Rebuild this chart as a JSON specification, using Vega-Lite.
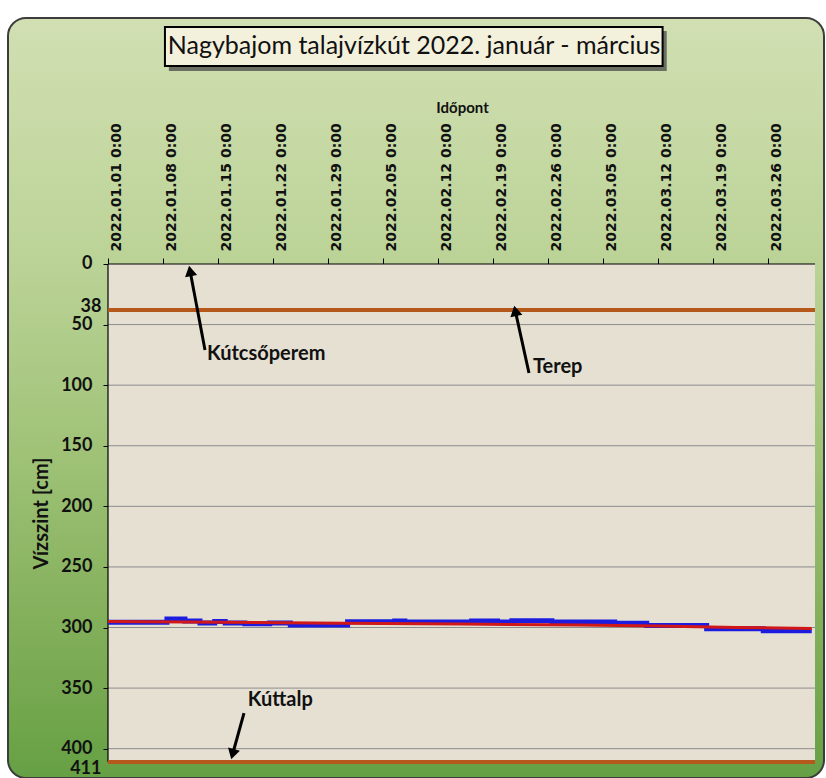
{
  "$schema": "https://vega.github.io/schema/vega-lite/v6.json",
  "width": 816,
  "height": 760,
  "autosize": {"type": "none"},
  "padding": {"left": 8, "top": 18, "right": 2, "bottom": 0},
  "background": "#ffffff",
  "view": {
    "fill": {
      "gradient": "linear",
      "x1": 0, "y1": 0, "x2": 0, "y2": 1,
      "stops": [
        {"offset": 0, "color": "#d1dfb2"},
        {"offset": 0.3, "color": "#bdd499"},
        {"offset": 0.55, "color": "#a2c47a"},
        {"offset": 0.8, "color": "#82af5a"},
        {"offset": 1, "color": "#66a044"}
      ]
    },
    "stroke": "#3c3c3c",
    "strokeWidth": 2,
    "cornerRadius": 18
  },
  "datasets": {
    "levels": [
      {"level": 38, "name": "Terep"},
      {"level": 411, "name": "Kúttalp"}
    ],
    "grid": [
      {"level": 50}, {"level": 100}, {"level": 150}, {"level": 200},
      {"level": 250}, {"level": 300}, {"level": 350}, {"level": 400}
    ],
    "measured": [
      {"time": "2022-01-01T00:00", "level": 295.6},
      {"time": "2022-01-08T12:00", "level": 293.0},
      {"time": "2022-01-10T19:00", "level": 294.6},
      {"time": "2022-01-12T17:00", "level": 296.3},
      {"time": "2022-01-14T14:00", "level": 295.0},
      {"time": "2022-01-15T22:00", "level": 296.3},
      {"time": "2022-01-18T10:00", "level": 296.8},
      {"time": "2022-01-21T14:00", "level": 296.2},
      {"time": "2022-01-24T05:00", "level": 298.0},
      {"time": "2022-01-31T12:00", "level": 295.3},
      {"time": "2022-02-06T12:00", "level": 294.6},
      {"time": "2022-02-07T19:00", "level": 295.4},
      {"time": "2022-02-16T07:00", "level": 294.6},
      {"time": "2022-02-19T14:00", "level": 295.4},
      {"time": "2022-02-21T10:00", "level": 294.5},
      {"time": "2022-02-26T12:00", "level": 295.5},
      {"time": "2022-03-06T12:00", "level": 296.5},
      {"time": "2022-03-10T14:00", "level": 298.3},
      {"time": "2022-03-18T05:00", "level": 301.0},
      {"time": "2022-03-25T10:00", "level": 302.6},
      {"time": "2022-03-31T14:00", "level": 302.6}
    ],
    "trend": [
      {"time": "2022-01-01T00:00", "level": 295.0},
      {"time": "2022-01-16T00:00", "level": 295.7},
      {"time": "2022-01-31T00:00", "level": 296.4},
      {"time": "2022-02-15T00:00", "level": 297.1},
      {"time": "2022-03-02T00:00", "level": 297.9},
      {"time": "2022-03-12T00:00", "level": 298.7},
      {"time": "2022-03-22T00:00", "level": 299.9},
      {"time": "2022-03-31T14:00", "level": 300.9}
    ],
    "notes": [
      {"label": "Kútcsőperem", "time": "2022-01-13T14:24", "level": 74.3},
      {"label": "Terep", "time": "2022-02-24T02:24", "level": 85.0},
      {"label": "Kúttalp", "time": "2022-01-18T19:12", "level": 359.8}
    ],
    "arrows": [
      {"label": "Kútcsőperem", "t0": "2022-01-13T08:24", "v0": 71.0, "t1": "2022-01-11T10:48", "v1": 5.7},
      {"label": "Terep", "t0": "2022-02-23T14:10", "v0": 90.0, "t1": "2022-02-21T20:24", "v1": 38.7},
      {"label": "Kúttalp", "t0": "2022-01-18T07:26", "v0": 370.6, "t1": "2022-01-16T20:38", "v1": 404.6}
    ],
    "heading": [
      {"text": "Nagybajom talajvízkút 2022. január - március"}
    ],
    "frame": [{}]
  },
  "layer": [
    {
      "data": {"name": "frame"},
      "mark": {"type": "rect", "fill": "#e6e0d3"},
      "encoding": {
        "x": {"datum": {"year": 2022, "month": 1, "date": 1}, "type": "temporal", "axis": null},
        "x2": {"datum": {"year": 2022, "month": 4, "date": 1}},
        "y": {
          "datum": 0,
          "type": "quantitative",
          "scale": {"domain": [-203.02, 424.2], "reverse": true, "nice": false, "zero": false},
          "axis": {
            "orient": "left",
            "offset": -100,
            "values": [0, 50, 100, 150, 200, 250, 300, 350, 400],
            "format": "d",
            "labelFont": "Lato",
            "labelFontWeight": "bold",
            "labelFontSize": 18,
            "labelColor": "#111111",
            "labelPadding": 11,
            "tickSize": 5,
            "tickColor": "#000000",
            "domain": false,
            "grid": false,
            "title": "Vízszint [cm]",
            "titleFont": "Lato",
            "titleFontSize": 20,
            "titleFontWeight": "bold",
            "titleColor": "#111111",
            "titleY": 495,
            "titlePadding": 9
          }
        },
        "y2": {"datum": 411}
      }
    },
    {
      "data": {"name": "grid"},
      "mark": {"type": "rule", "stroke": "#8c8c8c", "strokeWidth": 1},
      "encoding": {
        "x": {"datum": {"year": 2022, "month": 1, "date": 1}, "type": "temporal", "axis": null},
        "x2": {"datum": {"year": 2022, "month": 4, "date": 1}},
        "y": {"field": "level", "type": "quantitative", "axis": null}
      }
    },
    {
      "data": {"name": "frame"},
      "mark": {"type": "rule", "stroke": "#000000", "strokeWidth": 1.2},
      "encoding": {
        "x": {"datum": {"year": 2022, "month": 1, "date": 1}, "type": "temporal", "axis": null},
        "x2": {"datum": {"year": 2022, "month": 4, "date": 1}},
        "y": {"datum": 0, "type": "quantitative", "axis": null}
      }
    },
    {
      "data": {"name": "frame"},
      "mark": {"type": "rule", "stroke": "#000000", "strokeWidth": 1.2},
      "encoding": {
        "x": {"datum": {"year": 2022, "month": 1, "date": 1}, "type": "temporal", "axis": null},
        "y": {"datum": 0, "type": "quantitative", "axis": null},
        "y2": {"datum": 411}
      }
    },
    {
      "data": {"name": "levels"},
      "mark": {"type": "rule", "stroke": "#b4581c", "strokeWidth": 4},
      "encoding": {
        "x": {"datum": {"year": 2022, "month": 1, "date": 1}, "type": "temporal", "axis": null},
        "x2": {"datum": {"year": 2022, "month": 4, "date": 1}},
        "y": {
          "field": "level",
          "type": "quantitative",
          "axis": {
            "orient": "left",
            "offset": -100,
            "values": [38, 411],
            "format": "d",
            "ticks": false,
            "domain": false,
            "grid": false,
            "labelFont": "Lato",
            "labelFontWeight": "bold",
            "labelFontSize": 18,
            "labelColor": "#111111",
            "labelPadding": 7,
            "labelOffset": {"condition": {"test": "datum.value > 100", "value": 6}, "value": -4},
            "title": null
          }
        }
      }
    },
    {
      "data": {"name": "measured"},
      "mark": {"type": "line", "interpolate": "step-after", "stroke": "#1c1ce0", "strokeWidth": 5},
      "encoding": {
        "x": {
          "field": "time",
          "type": "temporal",
          "scale": {
            "type": "time",
            "domain": [
              {"year": 2021, "month": 12, "date": 19, "hours": 6, "minutes": 29},
              {"year": 2022, "month": 4, "date": 2, "hours": 3, "minutes": 30}
            ],
            "nice": false
          },
          "axis": {
            "orient": "top",
            "offset": -246,
            "values": [
              {"year": 2022, "month": 1, "date": 1},
              {"year": 2022, "month": 1, "date": 8},
              {"year": 2022, "month": 1, "date": 15},
              {"year": 2022, "month": 1, "date": 22},
              {"year": 2022, "month": 1, "date": 29},
              {"year": 2022, "month": 2, "date": 5},
              {"year": 2022, "month": 2, "date": 12},
              {"year": 2022, "month": 2, "date": 19},
              {"year": 2022, "month": 2, "date": 26},
              {"year": 2022, "month": 3, "date": 5},
              {"year": 2022, "month": 3, "date": 12},
              {"year": 2022, "month": 3, "date": 19},
              {"year": 2022, "month": 3, "date": 26}
            ],
            "labelExpr": "timeFormat(datum.value, '%Y.%m.%d') + ' 0:00'",
            "labelAngle": 270,
            "labelFont": "DejaVu Sans",
            "labelFontWeight": "bold",
            "labelFontSize": 14,
            "labelColor": "#111111",
            "labelPadding": 7,
            "labelOffset": 9,
            "labelOverlap": false,
            "labelFlush": false,
            "ticks": true,
            "tickSize": 6,
            "tickColor": "#000000",
            "tickWidth": 1,
            "domain": false,
            "grid": false,
            "title": "Időpont",
            "titleFont": "Lato",
            "titleFontSize": 15,
            "titleFontWeight": "bold",
            "titleColor": "#111111",
            "titleX": 454,
            "titlePadding": 7
          }
        },
        "y": {"field": "level", "type": "quantitative", "axis": null}
      }
    },
    {
      "data": {"name": "trend"},
      "mark": {"type": "line", "stroke": "#d01818", "strokeWidth": 3},
      "encoding": {
        "x": {"field": "time", "type": "temporal", "axis": null},
        "y": {"field": "level", "type": "quantitative", "axis": null}
      }
    },
    {
      "data": {"name": "arrows"},
      "mark": {"type": "rule", "stroke": "#000000", "strokeWidth": 3},
      "encoding": {
        "x": {"field": "t0", "type": "temporal", "axis": null},
        "x2": {"field": "t1"},
        "y": {"field": "v0", "type": "quantitative", "axis": null},
        "y2": {"field": "v1"}
      }
    },
    {
      "data": {"name": "arrows"},
      "transform": [{"filter": "datum.label === 'Kútcsőperem'"}],
      "mark": {"type": "point", "shape": "triangle-up", "filled": true, "fill": "#000000", "opacity": 1, "size": 150, "angle": 349},
      "encoding": {
        "x": {"field": "t1", "type": "temporal", "axis": null},
        "y": {"field": "v1", "type": "quantitative", "axis": null}
      }
    },
    {
      "data": {"name": "arrows"},
      "transform": [{"filter": "datum.label === 'Terep'"}],
      "mark": {"type": "point", "shape": "triangle-up", "filled": true, "fill": "#000000", "opacity": 1, "size": 150, "angle": 348},
      "encoding": {
        "x": {"field": "t1", "type": "temporal", "axis": null},
        "y": {"field": "v1", "type": "quantitative", "axis": null}
      }
    },
    {
      "data": {"name": "arrows"},
      "transform": [{"filter": "datum.label === 'Kúttalp'"}],
      "mark": {"type": "point", "shape": "triangle-up", "filled": true, "fill": "#000000", "opacity": 1, "size": 150, "angle": 195},
      "encoding": {
        "x": {"field": "t1", "type": "temporal", "axis": null},
        "y": {"field": "v1", "type": "quantitative", "axis": null}
      }
    },
    {
      "data": {"name": "notes"},
      "mark": {"type": "text", "align": "left", "baseline": "middle", "font": "Lato", "fontWeight": "bold", "fontSize": 20, "fill": "#111111"},
      "encoding": {
        "x": {"field": "time", "type": "temporal", "axis": null},
        "y": {"field": "level", "type": "quantitative", "axis": null},
        "text": {"field": "label"}
      }
    },
    {
      "data": {"name": "frame"},
      "mark": {"type": "rect", "fill": "#4a4a4a", "opacity": 0.75},
      "encoding": {
        "x": {"datum": {"year": 2022, "month": 1, "date": 8, "hours": 18}, "type": "temporal", "axis": null},
        "x2": {"datum": {"year": 2022, "month": 3, "date": 13, "hours": 3}},
        "y": {"datum": -192.3, "type": "quantitative", "axis": null},
        "y2": {"datum": -159.3}
      }
    },
    {
      "data": {"name": "frame"},
      "mark": {"type": "rect", "fill": "#f3f0dc", "stroke": "#000000", "strokeWidth": 2},
      "encoding": {
        "x": {"datum": {"year": 2022, "month": 1, "date": 8, "hours": 6}, "type": "temporal", "axis": null},
        "x2": {"datum": {"year": 2022, "month": 3, "date": 12, "hours": 14, "minutes": 24}},
        "y": {"datum": -195.6, "type": "quantitative", "axis": null},
        "y2": {"datum": -163.4}
      }
    },
    {
      "data": {"name": "heading"},
      "mark": {"type": "text", "align": "center", "baseline": "middle", "font": "Lato", "fontSize": 25, "fill": "#111111"},
      "encoding": {
        "x": {"datum": {"year": 2022, "month": 2, "date": 8, "hours": 23}, "type": "temporal", "axis": null},
        "y": {"datum": -179.9, "type": "quantitative", "axis": null},
        "text": {"field": "text"}
      }
    }
  ],
  "resolve": {"scale": {"x": "shared", "y": "shared"}, "axis": {"x": "independent", "y": "independent"}}
}
